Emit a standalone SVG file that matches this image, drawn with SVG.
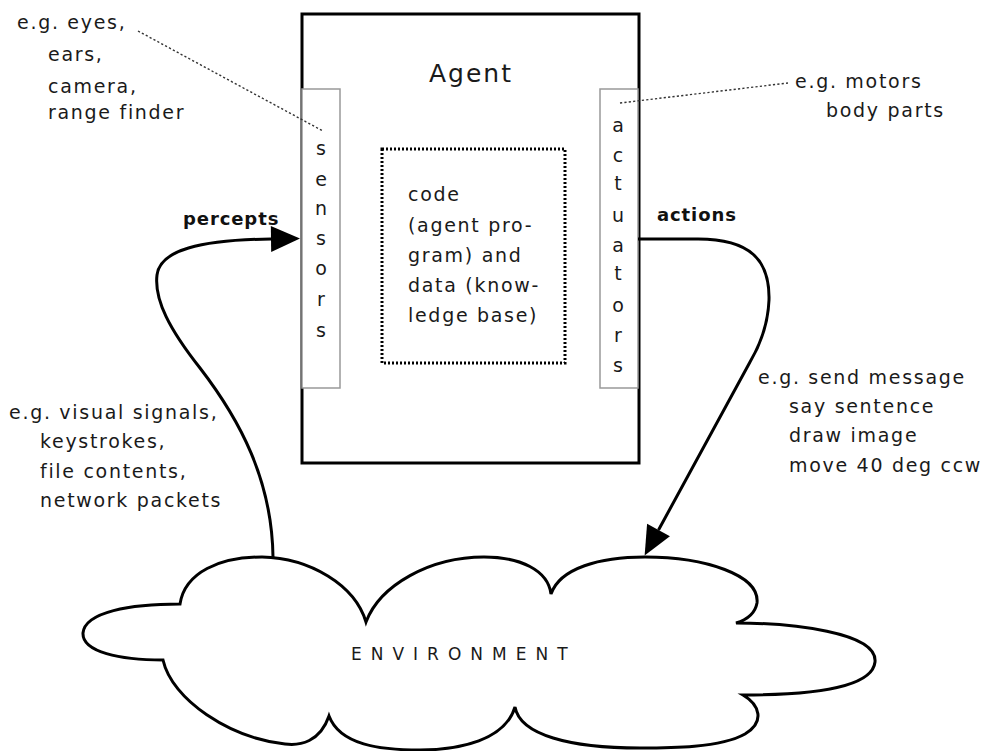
<svg xmlns="http://www.w3.org/2000/svg" width="983" height="751" viewBox="0 0 983 751">
<style>
.t{font-family:"DejaVu Sans","Noto Sans",sans-serif;font-size:19px;letter-spacing:1.7px;fill:#1a1a1a}
.b{font-family:"DejaVu Sans","Noto Sans",sans-serif;font-size:18px;font-weight:bold;letter-spacing:0.9px;fill:#111}
.v{font-family:"DejaVu Sans","Noto Sans",sans-serif;font-size:19px;fill:#1a1a1a;text-anchor:middle}
.lead{fill:none;stroke:#333;stroke-width:1.4;stroke-dasharray:2.2 2.2}
.conn{fill:none;stroke:#000;stroke-width:3}
</style>
<defs>
<marker id="ah" markerUnits="userSpaceOnUse" markerWidth="30" markerHeight="28" refX="0" refY="13" orient="auto" overflow="visible">
<path d="M0,0 L29,13 L0,26 Z" fill="#000"/>
</marker>
</defs>
<rect width="983" height="751" fill="#fff"/>

<g id="environment">
<path d="M180,604 C185,572 220,557 262,557 C310,558 355,585 366,622 C380,585 430,557 484,557 C520,557 548,570 551,594 C560,568 600,557 645,557 C705,557 760,575 757,603 C755,614 746,620 736,623 C790,623 878,632 875,662 C872,690 800,695 743,695 C760,705 765,722 745,734 C720,748 670,748 640,748 C570,748 520,735 515,707 C505,740 460,750 420,750 C380,750 340,745 329,716 C320,742 300,746 285,744 C230,738 172,700 163,660 C120,660 82,652 83,633 C85,612 130,604 180,604 Z" fill="#fff" stroke="#000" stroke-width="3" stroke-linejoin="miter"/>
<text class="t" x="351" y="660" style="font-size:17px;letter-spacing:9px">ENVIRONMENT</text>
</g>

<g id="agent">
<rect x="302" y="14" width="337" height="449" fill="#fff" stroke="#000" stroke-width="3"/>
<text class="t" x="429" y="82" style="font-size:25px;letter-spacing:2px">Agent</text>
</g>

<g id="program">
<rect x="382" y="149" width="183" height="214" fill="none" stroke="#000" stroke-width="3" stroke-dasharray="2 2"/>
<text class="t" x="408" y="201">code</text>
<text class="t" x="408" y="232">(agent pro-</text>
<text class="t" x="408" y="262">gram) and</text>
<text class="t" x="408" y="292">data (know-</text>
<text class="t" x="408" y="322">ledge base)</text>
</g>

<g id="sensors">
<rect x="302" y="89" width="38" height="299" fill="#fff" stroke="#999" stroke-width="1.5"/>
<text class="v" x="321" y="155">s</text>
<text class="v" x="321" y="186">e</text>
<text class="v" x="321" y="215">n</text>
<text class="v" x="321" y="245">s</text>
<text class="v" x="321" y="275">o</text>
<text class="v" x="321" y="306">r</text>
<text class="v" x="321" y="337">s</text>
</g>

<g id="actuators">
<rect x="600" y="89" width="38" height="299" fill="#fff" stroke="#999" stroke-width="1.5"/>
<text class="v" x="618" y="132">a</text>
<text class="v" x="618" y="162">c</text>
<text class="v" x="618" y="190">t</text>
<text class="v" x="618" y="222">u</text>
<text class="v" x="618" y="252">a</text>
<text class="v" x="618" y="280">t</text>
<text class="v" x="618" y="312">o</text>
<text class="v" x="618" y="342">r</text>
<text class="v" x="618" y="372">s</text>
</g>

<g id="sensor-examples">
<text class="t" x="17" y="29">e.g. eyes,</text>
<text class="t" x="48" y="61">ears,</text>
<text class="t" x="48" y="93">camera,</text>
<text class="t" x="48" y="119">range finder</text>
</g>

<g id="actuator-examples">
<text class="t" x="795" y="88">e.g. motors</text>
<text class="t" x="826" y="117">body parts</text>
</g>

<g id="percept-examples">
<text class="t" x="9" y="419">e.g. visual signals,</text>
<text class="t" x="40" y="448">keystrokes,</text>
<text class="t" x="40" y="478">file contents,</text>
<text class="t" x="40" y="507">network packets</text>
</g>

<g id="action-examples">
<text class="t" x="758" y="384">e.g. send message</text>
<text class="t" x="789" y="413">say sentence</text>
<text class="t" x="789" y="442">draw image</text>
<text class="t" x="789" y="472">move 40 deg ccw</text>
</g>

<g id="connectors">
<path class="lead" d="M138,31 L323,131"/>
<path class="lead" d="M620,103 L788,83"/>
<path class="conn" d="M273,557 C272,480 240,420 200,368 C170,330 154,300 157,275 C160,250 200,240 271,239" marker-end="url(#ah)"/>
<text class="b" x="183" y="225">percepts</text>
<path class="conn" d="M638,239 L698,239 C750,239 770,260 769,300 C768,325 760,345 750,362 L658.5,530" marker-end="url(#ah)"/>
<text class="b" x="657" y="221">actions</text>
</g>
</svg>
